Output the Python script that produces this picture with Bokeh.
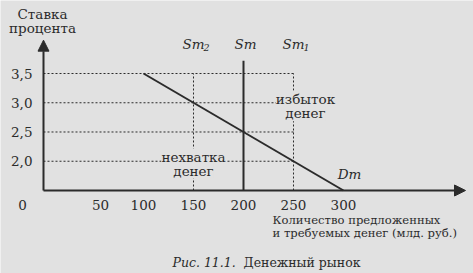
from bokeh.plotting import figure
from bokeh.models import Range1d, Arrow, NormalHead
from bokeh.core.properties import value
from bokeh.embed import file_html
from bokeh.resources import INLINE

# ---- data ----
rates = [2.0, 2.5, 3.0, 3.5]
rate_labels = ["2,0", "2,5", "3,0", "3,5"]
qty_ticks = [0, 50, 100, 150, 200, 250, 300]
qty_labels = ["0", "50", "100", "150", "200", "250", "300"]
dm_q = [100, 300]
dm_r = [3.5, 1.5]
sm_q = 200
sm2_q = 150
sm1_q = 250
sm_top = 3.72
r_min = 1.5
grid_right = 250

PAPER = "#e1e1e1"
INK = "#2b2b2b"
SERIF = value("DejaVu Serif")
FS = "13.5px"

p = figure(width=473, height=273, x_range=Range1d(-43, 430), y_range=Range1d(0.081, 4.748),
           output_backend="svg", toolbar_location=None, x_axis_location=None, y_axis_location=None,
           min_border=0, background_fill_color=PAPER, border_fill_color=PAPER, outline_line_color=None)
p.grid.visible = False

# dotted grid
for r in rates:
    p.line([0, grid_right], [r, r], line_color=INK, line_width=1, line_dash="2 2")
for q in [sm2_q, sm1_q]:
    p.line([q, q], [r_min, max(rates)], line_color=INK, line_width=1, line_dash="2 2")

# axes with arrows
p.add_layout(Arrow(x_start=0, y_start=r_min, x_end=0, y_end=4.07, line_color=INK, line_width=2,
                   end=NormalHead(size=11, fill_color=INK, line_color=INK)))
p.add_layout(Arrow(x_start=0, y_start=r_min, x_end=422, y_end=r_min, line_color=INK, line_width=2,
                   end=NormalHead(size=11, fill_color=INK, line_color=INK)))

# supply and demand
p.line([sm_q, sm_q], [r_min, sm_top], line_color=INK, line_width=2)
p.line(dm_q, dm_r, line_color=INK, line_width=2)

# tick labels
p.text(x=[-11] * len(rates), y=rates, text=rate_labels, text_font=SERIF, text_font_size=FS,
       text_color=INK, text_align="right", text_baseline="middle")
xoff = [-21, 7, 0, 0, 0, 0, 0]
p.text(x=[q + o for q, o in zip(qty_ticks, xoff)], y=[1.25] * len(qty_ticks), text=qty_labels,
       text_font=SERIF, text_font_size=FS, text_color=INK, text_align="center", text_baseline="middle")

# axis titles
p.text(x=[-1, -1], y=[4.51, 4.27], text=["Ставка", "процента"], text_font=SERIF, text_font_size=FS,
       text_color=INK, text_align="center", text_baseline="middle")
p.text(x=[229, 229], y=[0.99, 0.765], text=["Количество предложенных", "и требуемых денег (млд. руб.)"],
       text_font=SERIF, text_font_size="11.6px", text_color=INK, text_align="left", text_baseline="middle")

# curve labels
p.text(x=[sm2_q, sm_q + 2, sm1_q], y=[4.01] * 3, text=["Sm", "Sm", "Sm"], text_font=SERIF,
       text_font_size=FS, text_font_style="italic", text_color=INK, text_align="center",
       text_baseline="middle")
p.text(x=[sm2_q + 10, sm1_q + 10], y=[3.95, 3.95], text=["2", "1"], text_font=SERIF, text_font_size="9.5px",
       text_font_style="italic", text_color=INK, text_align="left", text_baseline="middle")
p.text(x=[306], y=[1.79], text=["Dm"], text_font=SERIF, text_font_size=FS, text_font_style="italic",
       text_color=INK, text_align="center", text_baseline="middle")

# region labels
p.text(x=[262, 262], y=[3.07, 2.82], text=["избыток", "денег"], text_font=SERIF, text_font_size=FS,
       text_color=INK, text_align="center", text_baseline="middle", background_fill_color=PAPER)
p.text(x=[150, 150], y=[2.08, 1.84], text=["нехватка", "денег"], text_font=SERIF, text_font_size=FS,
       text_color=INK, text_align="center", text_baseline="middle", background_fill_color=PAPER)

# caption
p.text(x=[129], y=[0.27], text=["Рис. 11.1."], text_font=SERIF, text_font_size="12.5px",
       text_font_style="italic", text_color=INK, text_align="left", text_baseline="middle")
p.text(x=[200], y=[0.27], text=["Денежный рынок"], text_font=SERIF, text_font_size="12.5px",
       text_color=INK, text_align="left", text_baseline="middle")

open("out.html", "w").write(file_html(p, INLINE))
